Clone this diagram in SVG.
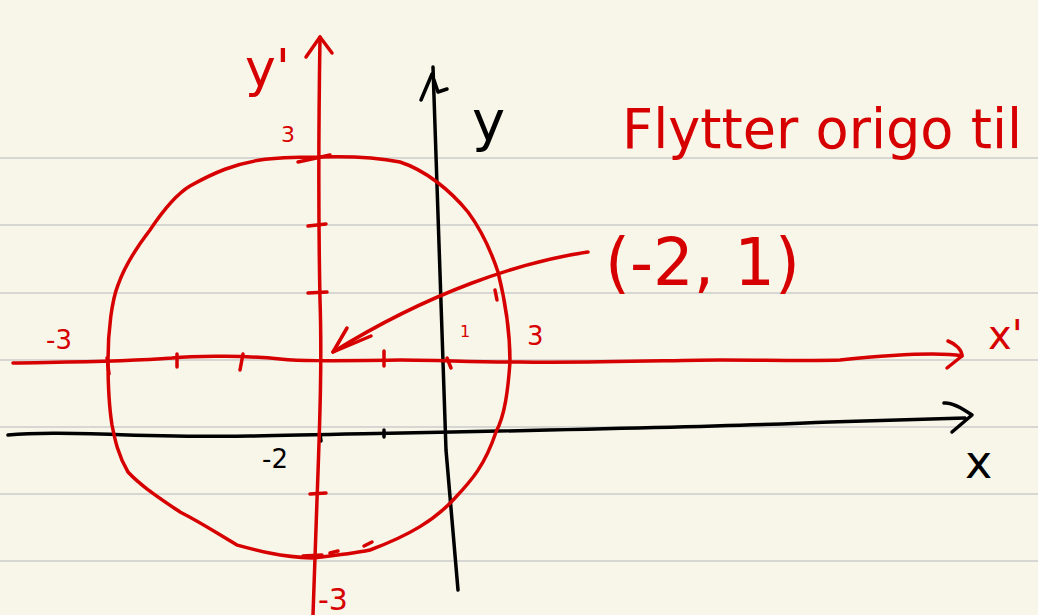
<svg xmlns="http://www.w3.org/2000/svg" width="1038" height="615" viewBox="0 0 1038 615">
<style>
.rule{stroke:#d6d6d2;stroke-width:2}
.red{fill:none;stroke:#d60000;stroke-width:3.5;stroke-linecap:round;stroke-linejoin:round}
.blk{fill:none;stroke:#000;stroke-width:3.5;stroke-linecap:round;stroke-linejoin:round}
.tr{fill:#d60000;font-family:"DejaVu Sans","Liberation Sans",sans-serif}
.tb{fill:#000;font-family:"DejaVu Sans","Liberation Sans",sans-serif}
</style>
<rect width="1038" height="615" fill="#f8f6e9"/>
<g id="rules">
<line class="rule" x1="0" y1="158" x2="1038" y2="158"/>
<line class="rule" x1="0" y1="225" x2="1038" y2="225"/>
<line class="rule" x1="0" y1="293" x2="1038" y2="293"/>
<line class="rule" x1="0" y1="360" x2="1038" y2="360"/>
<line class="rule" x1="0" y1="427" x2="1038" y2="427"/>
<line class="rule" x1="0" y1="494" x2="1038" y2="494"/>
<line class="rule" x1="0" y1="561" x2="1038" y2="561"/>
</g>
<g id="black-axes">
<path class="blk" d="M8,435 C60,430 150,438 250,436 C450,432 700,428 830,422 L965,418"/>
<path class="blk" d="M944,403 C952,402 962,408 972,415 L952,432"/>
<path class="blk" d="M433,67 L446,450 L458,590"/>
<path class="blk" d="M421,100 L432,74 M434,80 L438,92 L447,89"/>
<path class="blk" d="M384,430 L384,437"/>
<path class="blk" d="M320,434 L321,441"/>
</g>
<g id="red-axes">
<path class="red" d="M13,363 C60,362 120,362 172,358 C200,355 250,356 280,359 C300,361 320,361 400,360 C440,360 470,362 520,362 C600,363 680,360 720,360 C760,360 820,361 840,360 C900,354 940,352 962,356"/>
<path class="red" d="M948,341 C956,344 962,350 962,356 L947,368"/>
<path class="red" d="M320,37 C319,100 318,200 320,300 C322,360 320,420 317,500 L313,615"/>
<path class="red" d="M306,57 L320,37 L332,53"/>
<path class="red" d="M298,162 L330,155"/>
<path class="red" d="M308,226 L326,224"/>
<path class="red" d="M308,293 L327,292"/>
<path class="red" d="M310,494 L326,493"/>
<path class="red" d="M303,556 L322,555"/>
<path class="red" d="M107,358 L109,374"/>
<path class="red" d="M177,354 L177,367"/>
<path class="red" d="M243,354 L240,370"/>
<path class="red" d="M384,351 L384,366"/>
<path class="red" d="M447,358 L451,368"/>
</g>
<g id="circle">
<path class="red" d="M318,157 C350,156 380,158 400,162 C425,170 450,190 468,212 C485,235 494,260 498,272 C505,300 510,330 510,362 C508,390 505,415 496,432 C485,465 472,480 455,498 C435,520 410,535 370,550 C350,554 330,556 312,558 C280,557 255,550 237,545 C215,532 200,522 180,512 C155,495 140,485 128,472 C118,455 115,440 112,425 C108,400 108,380 108,360 C108,330 112,300 118,285 C125,265 140,243 150,230 C160,215 175,195 190,186 C215,172 235,164 260,160 C280,157 300,157 318,157"/>
<path class="red" d="M495,290 L497,300"/>
<path class="red" d="M364,546 L372,542"/>
<path class="red" d="M330,553 L338,551"/>
</g>
<g id="shift-arrow">
<path class="red" d="M588,252 C520,262 430,292 333,352"/>
<path class="red" d="M347,328 L333,352 L371,336"/>
</g>
<g id="labels">
<text class="tr" x="245" y="86" font-size="52">y'</text>
<text class="tr" x="281" y="142" font-size="22">3</text>
<text class="tr" x="46" y="349" font-size="26">-3</text>
<text class="tr" x="527" y="345" font-size="26">3</text>
<text class="tr" x="460" y="337" font-size="16">1</text>
<text class="tr" x="988" y="349" font-size="40">x'</text>
<text class="tr" x="318" y="610" font-size="30">-3</text>
<text class="tb" x="472" y="140" font-size="56">y</text>
<text class="tb" x="965" y="478" font-size="46">x</text>
<text class="tb" x="262" y="468" font-size="26">-2</text>
<text class="tr" x="622" y="148" font-size="56" textLength="400" lengthAdjust="spacingAndGlyphs">Flytter origo til</text>
<text class="tr" x="605" y="285" font-size="66" textLength="195" lengthAdjust="spacingAndGlyphs">(-2, 1)</text>
</g>
</svg>
